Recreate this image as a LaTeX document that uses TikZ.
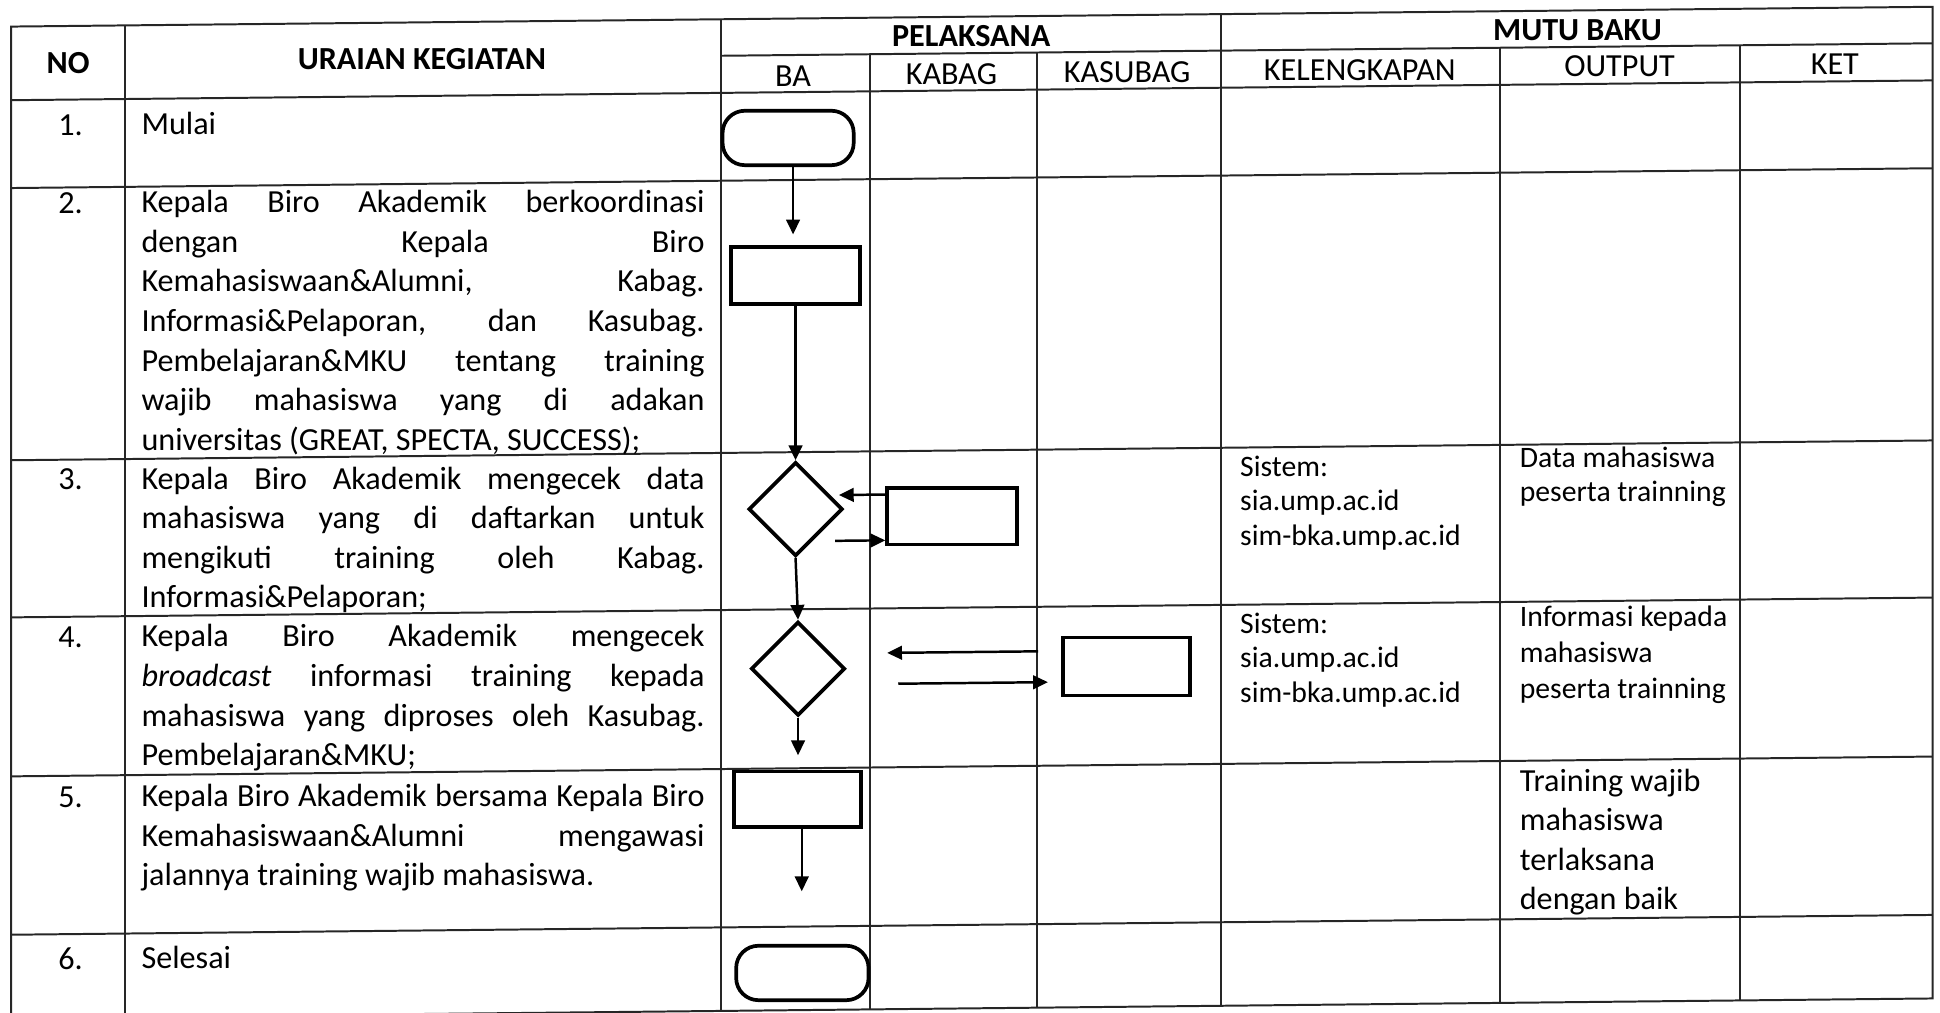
\documentclass[tikz,border=0pt]{standalone}
\usepackage{fontspec}
\setmainfont{Carlito}
\usetikzlibrary{shapes.geometric,arrows.meta}
\newcommand\J[1]{\hbox to \linewidth{\spaceskip=0.226em plus 1fil\relax #1}}
\newcommand\Lb[1]{\hbox{#1}}
\begin{document}
\begin{tikzpicture}[x=0.5pt,y=-0.5pt,
  tbl/.style={line width=0.8pt,draw=black!85},
  shp/.style={draw=black,line width=1.5pt,inner sep=0pt},
  term/.style={shp,rectangle,rounded corners=9pt,minimum width=53pt,minimum height=22pt},
  proc/.style={shp,rectangle,minimum width=52pt,minimum height=23pt},
  dec/.style={shp,diamond,minimum width=38pt,minimum height=38pt},
  arr/.style={line width=1pt,-{Triangle[length=6pt,width=5.5pt]}},
  hd/.style={inner sep=0pt,font=\fontsize{13}{16}\selectfont\bfseries},
  hs/.style={inner sep=0pt,font=\fontsize{13}{16}\selectfont},
  txt/.style={inner sep=0pt,anchor=base west,font=\fontsize{13}{16}\selectfont},
  sm/.style={inner sep=0pt,anchor=base west,font=\fontsize{12}{14}\selectfont},
  num/.style={inner sep=0pt,anchor=base,font=\fontsize{13}{16}\selectfont}]
\useasboundingbox (0,0) rectangle (1568,818);
% slight skew of the scanned page: lines rise to the right
\begin{scope}[cm={1,0.0103,0,1,(0pt,-4.04pt)}]
% table
\draw[tbl] (9,13.5) rectangle (1562,815);
\draw[tbl] (583,43) -- (1562,43);
\foreach \yy in {73,144,364,491,619.5,747.5} \draw[tbl] (9,\yy) -- (1562,\yy);
\foreach \xx in {101,583,987} \draw[tbl] (\xx,13.5) -- (\xx,815);
\foreach \xx in {703,838,1212,1406} \draw[tbl] (\xx,43) -- (\xx,815);
% header
\node[hd] (hno) at (55,43.5) {NO};
\node[hd] (hur) at (341,43.5) {URAIAN KEGIATAN};
\node[hd] (hpel) at (785,29) {PELAKSANA};
\node[hd] (hmb) at (1275,29.5) {MUTU BAKU};
\node[hs] (hba) at (641,60) {BA};
\node[hs] (hkb) at (769,60) {KABAG};
\node[hs] (hks) at (911,60) {KASUBAG};
\node[hs] (hkl) at (1099,60) {KELENGKAPAN};
\node[hs] (hout) at (1309,58.5) {OUTPUT};
\node[hs] (hket) at (1483,59) {KET};
% numbers
\node[num] (n1) at (57,102) {1.};
\node[num] (n2) at (57,165) {2.};
\node[num] (n3) at (57,388.5) {3.};
\node[num] (n4) at (57,516) {4.};
\node[num] (n5) at (57,645) {5.};
\node[num] (n6) at (57,776) {6.};
% activity texts
\node[txt] (t1) at (114,102) {Mulai};
\node[txt] (t2) at (114,165) {\parbox[t]{227.5pt}{\fontsize{13}{16}\selectfont
  \J{Kepala Biro Akademik berkoordinasi}
  \J{dengan Kepala Biro}
  \J{Kemahasiswaan\&Alumni, Kabag.}
  \J{Informasi\&Pelaporan, dan Kasubag.}
  \J{Pembelajaran\&MKU tentang training}
  \J{wajib mahasiswa yang di adakan}
  \Lb{universitas (GREAT, SPECTA, SUCCESS);}}};
\node[txt] (t3) at (114,388.5) {\parbox[t]{227.5pt}{\fontsize{13}{16}\selectfont
  \J{Kepala Biro Akademik mengecek data}
  \J{mahasiswa yang di daftarkan untuk}
  \J{mengikuti training oleh Kabag.}
  \Lb{Informasi\&Pelaporan;}}};
\node[txt] (t4) at (114,516) {\parbox[t]{227.5pt}{\fontsize{13}{16}\selectfont
  \J{Kepala Biro Akademik mengecek}
  \J{\textit{broadcast} informasi training kepada}
  \J{mahasiswa yang diproses oleh Kasubag.}
  \Lb{Pembelajaran\&MKU;}}};
\node[txt] (t5) at (114,645) {\parbox[t]{227.5pt}{\fontsize{13}{16}\selectfont
  \J{Kepala Biro Akademik bersama Kepala Biro}
  \J{Kemahasiswaan\&Alumni mengawasi}
  \Lb{jalannya training wajib mahasiswa.}}};
\node[txt] (t6) at (114,776) {Selesai};
% kelengkapan / output
\node[sm] (k3) at (1002,387) {\parbox[t]{100pt}{\fontsize{12}{14}\selectfont
  \Lb{Sistem:}\Lb{sia.ump.ac.id}\Lb{sim-bka.ump.ac.id}}};
\node[sm] (k4) at (1002,514) {\parbox[t]{100pt}{\fontsize{12}{14}\selectfont
  \Lb{Sistem:}\Lb{sia.ump.ac.id}\Lb{sim-bka.ump.ac.id}}};
\node[sm] (o3) at (1228,382.5) {\parbox[t]{90pt}{\fontsize{12}{13.5}\selectfont
  \Lb{Data mahasiswa}\Lb{peserta trainning}}};
\node[sm] (o4) at (1228,511) {\parbox[t]{90pt}{\fontsize{12}{14.5}\selectfont
  \Lb{Informasi kepada}\Lb{mahasiswa}\Lb{peserta trainning}}};
\node[txt] (o5) at (1228,644) {\parbox[t]{90pt}{\fontsize{13}{16}\selectfont
  \Lb{Training wajib}\Lb{mahasiswa}\Lb{terlaksana}\Lb{dengan baik}}};
% flowchart
\node[term] (s1) at (637,110) {};
\node[proc] (r2) at (643,221) {};
\node[dec] (d3) at (643,410) {};
\node[proc,minimum width=52.5pt] (r3) at (769.5,417) {};
\node[dec] (d4) at (645,539) {};
\node[proc,minimum width=51.5pt,minimum height=23.5pt] (r4) at (910.5,540) {};
\node[proc,minimum width=51.5pt,minimum height=22.5pt] (r5) at (644.5,644.5) {};
\node[term,minimum width=53.5pt] (e6) at (648.5,785) {};
\coordinate (a1) at (641,188);
\coordinate (a3in) at (678,399);
\coordinate (a3out) at (675,436);
\coordinate (a4s) at (839,527);
\coordinate (a4t) at (717,527);
\coordinate (a4u) at (726,552);
\coordinate (a4v) at (847,552);
\coordinate (a4d) at (645,609);
\coordinate (a5d) at (648,719);
\draw[arr] (s1.south -| a1) -- (a1);
\draw[arr] (r2.south) -- (d3.north);
\draw[arr] (r3.west |- a3in) -- (a3in);
\draw[arr] (a3out) -- (r3.west |- a3out);
\draw[arr] (d3.south) -- (d4.north);
\draw[arr] (a4s) -- (a4t);
\draw[arr] (a4u) -- (a4v);
\draw[arr] (d4.south) -- (a4d);
\draw[arr] (r5.south -| a5d) -- (a5d);
\end{scope}
\end{tikzpicture}
\end{document}
